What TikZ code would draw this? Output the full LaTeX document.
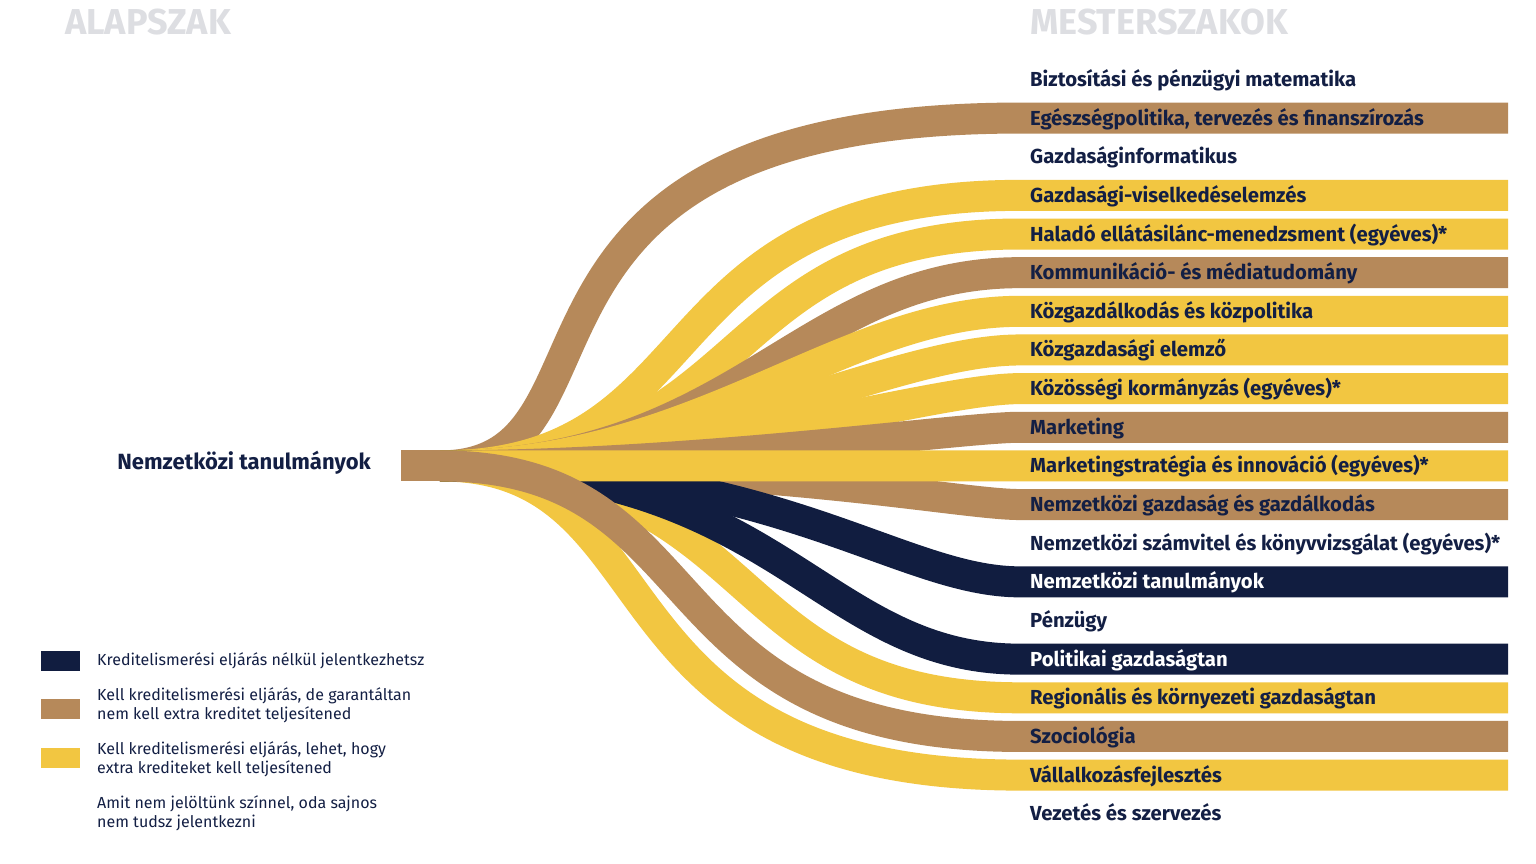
\documentclass[tikz,border=0pt]{standalone}
\usepackage{fontspec}
\setmainfont{Fira Sans}
\usetikzlibrary{calc}
\definecolor{navy}{RGB}{17,29,64}
\definecolor{brownc}{RGB}{182,137,90}
\definecolor{yell}{RGB}{242,198,65}
\definecolor{txt}{RGB}{19,31,68}
\definecolor{hdr}{RGB}{221,222,226}
\newcommand\flow[4]{\draw[band,#2] (src) .. controls ($(src)+(#3,0)$) and ($(t#1)-(#4,0)$) .. (t#1) -- (e#1);}
\begin{document}
\begin{tikzpicture}[x=1pt,y=-1pt,
 band/.style={line width=31pt},
 lbl/.style={anchor=base west, text=txt, font=\fontsize{20.3}{23}\selectfont\bfseries, inner sep=0pt},
 leg/.style={anchor=west, text=txt, font=\fontsize{16}{19.5}\selectfont, inner sep=0pt, align=left},
 hd/.style={anchor=base west, text=hdr, font=\fontsize{36}{40}\selectfont\bfseries, inner sep=0pt},
 sq/.style={minimum width=39pt, minimum height=20pt, inner sep=0pt, anchor=west}]
\useasboundingbox (0,0) rectangle (1536,864);
\fill[white] (0,0) rectangle (1536,864);
\coordinate (src) at (440,465.9);
\foreach \i in {0,...,19}{
  \coordinate (t\i) at (1020,79.4+38.65*\i);
  \coordinate (e\i) at (1508,79.4+38.65*\i);
}
% flows (bottom to top)
\flow{1}{brownc}{200}{560}
\flow{3}{yell}{280}{380}
\flow{4}{yell}{320}{310}
\flow{5}{brownc}{300}{220}
\flow{6}{yell}{260}{180}
\flow{7}{yell}{250}{130}
\flow{8}{yell}{250}{90}
\flow{9}{brownc}{250}{60}
\flow{11}{brownc}{340}{60}
\flow{18}{yell}{240}{440}
\flow{16}{yell}{330}{305}
\flow{15}{navy}{340}{200}
\flow{13}{navy}{340}{120}
\flow{10}{yell}{100}{100}
\flow{17}{brownc}{280}{380}
% source bar
\node[fill=brownc, minimum width=39pt, minimum height=31pt, inner sep=0pt, anchor=east] (srcbar) at (440,465.9) {};
\node[anchor=base east, text=txt, font=\fontsize{22}{25}\selectfont\bfseries, inner sep=0pt] (srclabel) at (371,469.5) {Nemzetközi tanulmányok};
% headers
\node[hd] (h1) at (65,35) {ALAPSZAK};
\node[hd] (h2) at (1030,35) {MESTERSZAKOK};
% labels
\node[lbl] (l0) at (1030,79.4+7) {Biztosítási és pénzügyi matematika};
\node[lbl] (l1) at (1030,118.05+7) {Egészségpolitika, tervezés és finanszírozás};
\node[lbl] (l2) at (1030,156.7+7) {Gazdaságinformatikus};
\node[lbl] (l3) at (1030,195.35+7) {Gazdasági-viselkedéselemzés};
\node[lbl] (l4) at (1030,234.0+7) {Haladó ellátásilánc-menedzsment (egyéves)*};
\node[lbl] (l5) at (1030,272.65+7) {Kommunikáció- és médiatudomány};
\node[lbl] (l6) at (1030,311.3+7) {Közgazdálkodás és közpolitika};
\node[lbl] (l7) at (1030,349.95+7) {Közgazdasági elemző};
\node[lbl] (l8) at (1030,388.6+7) {Közösségi kormányzás (egyéves)*};
\node[lbl] (l9) at (1030,427.25+7) {Marketing};
\node[lbl] (l10) at (1030,465.9+7) {Marketingstratégia és innováció (egyéves)*};
\node[lbl] (l11) at (1030,504.55+7) {Nemzetközi gazdaság és gazdálkodás};
\node[lbl] (l12) at (1030,543.2+7) {Nemzetközi számvitel és könyvvizsgálat (egyéves)*};
\node[lbl,text=white] (l13) at (1030,581.85+7) {Nemzetközi tanulmányok};
\node[lbl] (l14) at (1030,620.5+7) {Pénzügy};
\node[lbl,text=white] (l15) at (1030,659.15+7) {Politikai gazdaságtan};
\node[lbl] (l16) at (1030,697.8+7) {Regionális és környezeti gazdaságtan};
\node[lbl] (l17) at (1030,736.45+7) {Szociológia};
\node[lbl] (l18) at (1030,775.1+7) {Vállalkozásfejlesztés};
\node[lbl] (l19) at (1030,813.75+7) {Vezetés és szervezés};
% legend
\node[sq,fill=navy] (k1) at (41,661) {};
\node[sq,fill=brownc] (k2) at (41,709) {};
\node[sq,fill=yell] (k3) at (41,758) {};
\node[leg] (d1) at (97,661) {Kreditelismerési eljárás nélkül jelentkezhetsz};
\node[leg] (d2) at (97,705.5) {Kell kreditelismerési eljárás, de garantáltan\\nem kell extra kreditet teljesítened};
\node[leg] (d3) at (97,759.5) {Kell kreditelismerési eljárás, lehet, hogy\\extra krediteket kell teljesítened};
\node[leg] (d4) at (97,813.5) {Amit nem jelöltünk színnel, oda sajnos\\nem tudsz jelentkezni};
\end{tikzpicture}
\end{document}
